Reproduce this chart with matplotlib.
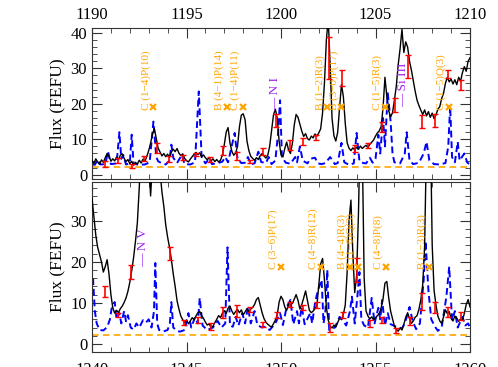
import numpy as np
import matplotlib
matplotlib.use("Agg")
import matplotlib.pyplot as plt
from matplotlib.ticker import MultipleLocator

plt.rcParams['font.family'] = ['Liberation Serif', 'DejaVu Serif']

# ---------------- top panel data (1190-1210 A) ----------------
top_wave = np.round(np.arange(1190.0, 1210.01, 0.1), 2)
top_flux = [
    4.0, 3.2, 4.5, 3.6, 2.9, 4.2, 3.5, 4.8, 6.0, 5.2,
    3.8, 4.5, 3.9, 5.0, 4.2, 5.5, 5.9, 4.6, 3.7, 4.3,
    3.1, 3.8, 2.7, 3.5, 3.0, 4.1, 3.3, 4.4, 3.8, 5.2,
    6.8, 8.9, 11.5, 13.0, 10.2, 7.5, 6.4, 5.3, 6.0, 5.1,
    5.8, 4.9, 6.4, 7.2, 6.5, 7.4, 6.1, 5.4, 5.9, 4.6,
    4.0, 3.6, 4.4, 5.1, 5.8, 6.3, 5.7, 6.2, 5.0, 5.6,
    4.8, 4.2, 4.9, 3.9, 4.5, 3.7, 4.3, 3.6, 4.1, 5.6,
    8.5, 12.0, 13.3, 9.0, 6.6, 5.5, 6.1, 8.0, 13.5, 16.8,
    17.2, 15.5, 9.5, 6.8, 5.2, 4.6, 4.1, 4.8, 4.3, 5.4,
    6.0, 5.3, 4.7, 5.5, 8.0, 12.5, 16.8, 18.5, 16.0, 9.5,
    5.6, 5.0, 7.4, 9.2, 7.0, 6.0, 8.8, 14.0, 17.0, 16.2,
    14.2, 12.3, 10.8, 11.6, 10.2, 9.8, 10.9, 10.4, 11.5, 10.9,
    11.8, 13.0, 17.5, 26.0, 38.0, 44.0, 31.0, 16.0, 11.0, 9.5,
    12.0, 19.0, 25.5, 22.0, 14.5, 9.0, 7.5, 6.8, 7.6, 7.0,
    7.8, 7.2, 8.1, 7.4, 7.9, 8.3, 7.7, 8.6, 9.2, 9.8,
    10.9, 11.8, 12.4, 13.6, 19.0, 27.5, 22.0, 18.0, 16.3, 17.5,
    21.0, 25.0, 31.0, 35.5, 41.0, 34.5, 37.5, 36.0, 32.0, 29.5,
    26.5, 23.5, 21.0, 19.5, 18.2, 17.0, 18.3, 16.6, 17.8, 16.2,
    17.4, 15.8, 16.9, 18.5, 19.2, 21.5, 23.0, 25.8, 27.5, 26.2,
    27.0, 25.6, 26.8, 25.4, 27.5, 26.4, 28.8, 30.5, 29.2, 32.0,
    33.0,
]

top_model_wave = [
    1190.0, 1190.15, 1190.3, 1190.45, 1190.7, 1190.85, 1191.0, 1191.3, 1191.45, 1191.55,
    1191.65, 1191.8, 1192.0, 1192.1, 1192.2, 1192.5, 1192.8, 1193.05, 1193.25, 1193.4,
    1193.5, 1193.7, 1193.9, 1194.1, 1194.2, 1194.3, 1194.5, 1194.75, 1194.9, 1195.2,
    1195.45, 1195.65, 1195.8, 1196.0, 1196.2, 1196.35, 1196.6, 1196.9, 1197.05, 1197.2,
    1197.55, 1197.7, 1197.9, 1198.1, 1198.25, 1198.4, 1198.6, 1198.8, 1198.95, 1199.2,
    1199.35, 1199.5, 1199.7, 1199.85, 1199.95, 1200.05, 1200.25, 1200.5, 1200.75, 1200.85,
    1201.0, 1201.15, 1201.4, 1201.55, 1201.8, 1201.95, 1202.15, 1202.35, 1202.6, 1202.85,
    1203.0, 1203.2, 1203.35, 1203.6, 1203.85, 1204.0, 1204.15, 1204.35, 1204.5, 1204.7,
    1204.85, 1205.0, 1205.15, 1205.25, 1205.4, 1205.5, 1205.65, 1205.8, 1205.9, 1206.0,
    1206.3, 1206.55, 1206.65, 1206.8, 1207.0, 1207.3, 1207.55, 1207.7, 1207.85, 1208.1,
    1208.4, 1208.7, 1208.85, 1208.95, 1209.05, 1209.2, 1209.35, 1209.45, 1209.7, 1209.85,
    1210.0,
]
top_model_flux = [
    3.0, 2.8, 4.2, 2.9, 3.0, 6.5, 3.0, 3.2, 12.0, 4.5,
    5.6, 2.9, 3.2, 11.3, 3.1, 2.8, 2.9, 3.5, 15.0, 5.0,
    3.8, 3.2, 2.9, 4.0, 8.5, 4.8, 3.3, 5.6, 3.0, 2.9,
    3.5, 23.5, 5.0, 3.2, 4.5, 3.0, 3.2, 3.7, 5.0, 3.5,
    11.8, 4.5, 3.3, 3.4, 5.0, 3.0, 3.2, 6.5, 3.6, 3.3,
    5.0, 3.0, 4.0, 12.0, 21.0, 5.0, 3.4, 3.1, 5.0, 3.5,
    8.0, 4.0, 3.2, 4.5, 4.8, 3.2, 3.0, 3.3, 5.0, 3.0,
    3.3, 9.0, 3.5, 2.8, 3.2, 11.8, 3.8, 3.3, 3.2, 4.8,
    3.4, 4.5, 11.3, 6.0, 16.0, 8.0, 23.0, 15.0, 6.0, 3.5,
    3.2, 6.0, 12.0, 4.0, 3.0, 3.4, 6.0, 9.3, 4.0, 3.0,
    2.9, 3.3, 8.0, 19.5, 5.0, 3.5, 9.3, 4.0, 6.0, 3.5,
    2.8,
]

top_err_wave = [1190.7, 1191.4, 1192.1, 1192.75, 1193.45, 1194.1, 1194.8, 1195.5, 1196.25, 1196.95,
                1197.65, 1198.35, 1199.05, 1199.75, 1200.45, 1201.15, 1201.85, 1202.55, 1203.25, 1203.9,
                1204.6, 1205.35, 1206.05, 1206.7, 1207.45, 1208.15, 1208.85, 1209.55]
top_err_flux = [3.0, 4.0, 2.4, 4.5, 7.6, 4.5, 5.0, 5.6, 4.3, 6.8,
                5.3, 3.8, 6.5, 15.3, 8.5, 9.5, 10.5, 33.0, 27.3, 7.5,
                8.3, 13.5, 19.7, 30.5, 15.0, 15.2, 28.4, 25.4]
top_err_size = [0.8, 0.7, 0.5, 0.7, 1.4, 0.8, 0.7, 0.4, 0.7, 1.3,
                1.1, 0.5, 1.0, 1.8, 1.4, 1.0, 0.6, 6.0, 2.3, 1.0,
                0.7, 1.5, 2.0, 3.3, 1.8, 1.8, 1.2, 1.4]

top_h2_wave = [1193.25, 1197.15, 1198.0, 1202.45, 1203.2, 1205.5, 1208.9]
top_h2_labels = ["C (1\u22124)P(10)", "B (4\u22121)P(14)", "C (1\u22124)P(11)", "B (1\u22122)R(3)",
                 "B (3\u22120)P(17)", "C (1\u22125)R(3)", "C (1\u22125)Q(3)"]
top_ion_wave = [1199.7, 1206.45]
top_ion_labels = ["\u2014 N I", "\u2014 Si III"]

# ---------------- bottom panel data (1240-1260 A) ----------------
bot_wave = np.round(np.arange(1240.0, 1260.01, 0.1), 2)
bot_flux = [
    35.5, 31.0, 26.5, 23.5, 21.8, 20.0, 17.5, 18.8, 20.5, 17.0,
    12.0, 8.8, 7.5, 8.2, 7.6, 8.6, 9.2, 10.1, 11.2, 12.8,
    15.0, 17.8, 21.0, 25.0, 29.5, 38.0, 48.0, 60.0, 66.0, 60.0,
    45.0, 36.0, 44.0, 60.0, 62.0, 52.0, 42.0, 37.0, 33.5, 29.0,
    26.0, 23.5, 20.5, 17.0, 14.0, 10.5, 8.5, 6.8, 5.9, 5.2,
    5.8, 4.9, 5.6, 6.4, 5.9, 6.8, 7.6, 7.9, 6.9, 6.2,
    5.3, 4.6, 4.9, 4.0, 4.3, 5.2, 6.0, 6.9, 6.4, 7.5,
    8.1, 7.4, 8.7, 9.2, 8.0, 7.2, 7.9, 8.4, 7.6, 8.3,
    7.1, 7.8, 8.6, 7.9, 8.5, 8.9, 9.6, 10.8, 11.3, 9.4,
    7.6, 6.2, 5.3, 4.8, 4.4, 4.1, 4.9, 5.8, 7.0, 10.2,
    11.6, 10.8, 9.0, 8.2, 9.5, 10.3, 9.8, 10.9, 12.0, 10.6,
    8.5, 9.6, 11.2, 12.9, 10.5, 8.2, 7.6, 8.0, 8.6, 9.3,
    14.5, 19.5, 20.8, 15.5, 9.0, 5.8, 4.3, 3.9, 4.6, 4.1,
    5.2, 6.3, 6.0, 7.2, 9.5, 17.5, 30.0, 35.0, 22.0, 12.5,
    16.5, 32.0, 55.0, 48.0, 16.0, 8.0, 6.8, 6.1, 6.6, 5.8,
    6.4, 6.9, 7.4, 8.8, 11.0, 14.8, 15.2, 11.2, 8.0, 6.2,
    4.3, 3.6, 3.1, 3.9, 3.4, 4.8, 6.5, 7.6, 6.2, 5.0,
    5.6, 6.5, 6.9, 8.5, 10.8, 14.5, 24.0, 50.0, 68.0, 55.0,
    24.0, 13.0, 9.5, 6.8, 5.6, 5.0, 6.6, 8.3, 7.4, 7.9,
    6.2, 5.6, 6.8, 6.3, 5.5, 6.1, 5.8, 7.4, 9.6, 10.8,
    9.0,
]

bot_model_wave = [
    1240.0, 1240.05, 1240.15, 1240.25, 1240.4, 1240.6, 1240.8, 1240.95, 1241.05, 1241.2,
    1241.3, 1241.45, 1241.55, 1241.7, 1241.8, 1241.9, 1242.05, 1242.2, 1242.35, 1242.5,
    1242.7, 1242.85, 1243.0, 1243.15, 1243.28, 1243.35, 1243.45, 1243.55, 1243.75, 1244.0,
    1244.12, 1244.2, 1244.3, 1244.5, 1244.65, 1244.9, 1245.1, 1245.25, 1245.45, 1245.6,
    1245.7, 1245.85, 1246.1, 1246.4, 1246.65, 1246.85, 1247.05, 1247.17, 1247.3, 1247.45,
    1247.6, 1247.75, 1247.95, 1248.1, 1248.25, 1248.4, 1248.6, 1248.75, 1249.0, 1249.15,
    1249.4, 1249.7, 1249.95, 1250.1, 1250.3, 1250.5, 1250.65, 1250.85, 1250.95, 1251.1,
    1251.25, 1251.55, 1251.65, 1251.8, 1251.95, 1252.15, 1252.25, 1252.35, 1252.45, 1252.55,
    1252.85, 1253.1, 1253.3, 1253.45, 1253.65, 1253.75, 1253.9, 1254.05, 1254.15, 1254.25,
    1254.4, 1254.6, 1254.8, 1254.95, 1255.15, 1255.25, 1255.35, 1255.5, 1255.65, 1255.8,
    1256.1, 1256.4, 1256.55, 1256.8, 1256.97, 1257.15, 1257.35, 1257.55, 1257.65, 1257.8,
    1257.95, 1258.15, 1258.3, 1258.5, 1258.75, 1258.9, 1259.05, 1259.2, 1259.35, 1259.6,
    1259.75, 1259.9, 1260.0,
]
bot_model_flux = [
    14.0, 16.3, 8.0, 5.0, 3.4, 3.3, 4.1, 6.0, 9.0, 10.2,
    6.0, 7.5, 5.0, 8.0, 5.5, 7.0, 4.0, 3.5, 5.0, 4.0,
    5.8, 5.2, 6.0, 4.0, 8.0, 19.7, 5.0, 3.4, 3.0, 3.4,
    5.0, 10.2, 4.0, 3.2, 3.0, 3.4, 7.5, 4.0, 6.5, 5.0,
    11.2, 4.5, 3.4, 4.0, 5.6, 4.0, 5.0, 23.5, 4.5, 4.2,
    6.6, 4.5, 7.5, 5.0, 9.0, 5.0, 8.0, 4.6, 4.0, 4.2,
    3.4, 5.0, 7.5, 4.6, 9.0, 10.7, 4.8, 8.0, 5.0, 9.0,
    4.8, 7.5, 5.0, 10.0, 13.0, 15.6, 5.0, 8.0, 18.0, 3.4,
    4.0, 6.6, 5.5, 4.5, 8.0, 11.5, 5.0, 12.0, 17.5, 6.0,
    4.5, 4.0, 11.2, 5.0, 8.8, 6.0, 10.7, 4.5, 7.5, 4.8,
    4.2, 3.8, 5.0, 9.0, 5.5, 3.6, 5.0, 15.6, 25.0, 13.0,
    6.0, 4.2, 3.2, 4.0, 11.5, 18.8, 5.8, 8.0, 4.0, 6.6,
    4.5, 5.0, 4.0,
]

bot_err_wave = [1240.7, 1241.4, 1242.05, 1244.15, 1244.85, 1245.6, 1246.3, 1246.95, 1247.65, 1248.35,
                1249.05, 1249.8, 1250.5, 1251.15, 1251.9, 1252.6, 1253.3, 1254.0, 1254.7, 1255.35,
                1256.1, 1256.8, 1257.45, 1258.15, 1258.85, 1259.55]
bot_err_flux = [12.7, 7.0, 17.5, 22.0, 5.2, 5.8, 4.2, 7.7, 8.0, 8.4,
                4.8, 7.0, 9.6, 8.9, 9.5, 4.0, 7.0, 18.0, 5.0, 5.8,
                3.3, 5.6, 10.3, 8.9, 7.8, 6.8]
bot_err_size = [1.3, 0.5, 1.8, 1.5, 0.6, 0.8, 0.8, 1.3, 1.4, 0.6,
                0.6, 0.8, 0.6, 0.6, 0.7, 1.0, 0.8, 3.0, 0.8, 0.8,
                0.6, 1.0, 2.0, 1.3, 1.2, 1.0]

bot_h2_wave = [1250.0, 1252.1, 1253.65, 1254.1, 1255.55, 1257.85]
bot_h2_labels = ["C (3\u22126)P(17)", "C (4\u22128)R(12)", "B (4\u22124)R(3)", "C (1\u22126)Q(3)",
                 "C (4\u22128)P(8)", "B (1\u22123)R(3)"]
bot_ion_wave = [1242.7]
bot_ion_labels = ["\u2014 N V"]

continuum = 2.2
h2_level_top = 19.0
h2_level_bot = 18.8
ion_base_top = [18.0, 19.0]
ion_base_bot = [18.8]

ORANGE = '#FFA500'
PURPLE = '#A020F0'

fig = plt.figure(figsize=(4.98, 3.67), dpi=100)
ax1 = fig.add_axes([92 / 498, 188 / 367, 378 / 498, 151 / 367])
ax2 = fig.add_axes([92 / 498, 15 / 367, 378 / 498, 170 / 367])


def draw_panel(ax, wave, flux, mwave, mflux, ewave, eflux, esize,
               h2w, h2lab, h2y, ionw, ionlab, ionb, xlim, ylim):
    ax.axhline(continuum, color=ORANGE, ls=(0, (4, 2.5)), lw=1.2, zorder=1)
    ax.plot(mwave, mflux, color='blue', ls=(0, (3.5, 2)), lw=1.4, zorder=2)
    ax.plot(wave, flux, color='black', lw=1.0, zorder=3)
    ax.errorbar(ewave, eflux, yerr=esize, fmt='none', ecolor='red',
                elinewidth=1.2, capsize=2.5, capthick=1.0, zorder=4)
    ax.plot(h2w, [h2y] * len(h2w), 'x', color=ORANGE, ms=5, mew=1.6, zorder=5)
    for w, lab in zip(h2w, h2lab):
        ax.annotate(lab, (w, h2y), xytext=(-2, -2), textcoords='offset points',
                    rotation=90, ha='right', va='bottom', color=ORANGE, fontsize=8)
    for w, lab, b in zip(ionw, ionlab, ionb):
        ax.text(w, b, lab, rotation=90, ha='center', va='bottom',
                color=PURPLE, fontsize=9.5)
    ax.set_xlim(*xlim)
    ax.set_ylim(*ylim)
    ax.xaxis.set_major_locator(MultipleLocator(5))
    ax.xaxis.set_minor_locator(MultipleLocator(1))
    ax.yaxis.set_major_locator(MultipleLocator(10))
    ax.yaxis.set_minor_locator(MultipleLocator(2))
    ax.tick_params(which='both', direction='in', top=True, right=True,
                   labelsize=12, color='#333333')
    ax.tick_params(which='major', length=7, width=0.8)
    ax.tick_params(which='minor', length=3.5, width=0.6)
    for s in ax.spines.values():
        s.set_linewidth(0.8)
        s.set_color('#333333')
    ax.set_ylabel('Flux (FEFU)', fontsize=12.5, labelpad=4)


draw_panel(ax1, top_wave, top_flux, top_model_wave, top_model_flux,
           top_err_wave, top_err_flux, top_err_size,
           top_h2_wave, top_h2_labels, h2_level_top,
           top_ion_wave, top_ion_labels, ion_base_top,
           (1190, 1210), (-1.2, 41.4))
ax1.tick_params(axis='x', labeltop=True, labelbottom=False, pad=3.5)

draw_panel(ax2, bot_wave, bot_flux, bot_model_wave, bot_model_flux,
           bot_err_wave, bot_err_flux, bot_err_size,
           bot_h2_wave, bot_h2_labels, h2_level_bot,
           bot_ion_wave, bot_ion_labels, ion_base_bot,
           (1240, 1260), (-1.95, 39.4))
ax2.tick_params(axis='x', labeltop=False, labelbottom=True, pad=7.5)

fig.savefig('out.png', dpi=100)
